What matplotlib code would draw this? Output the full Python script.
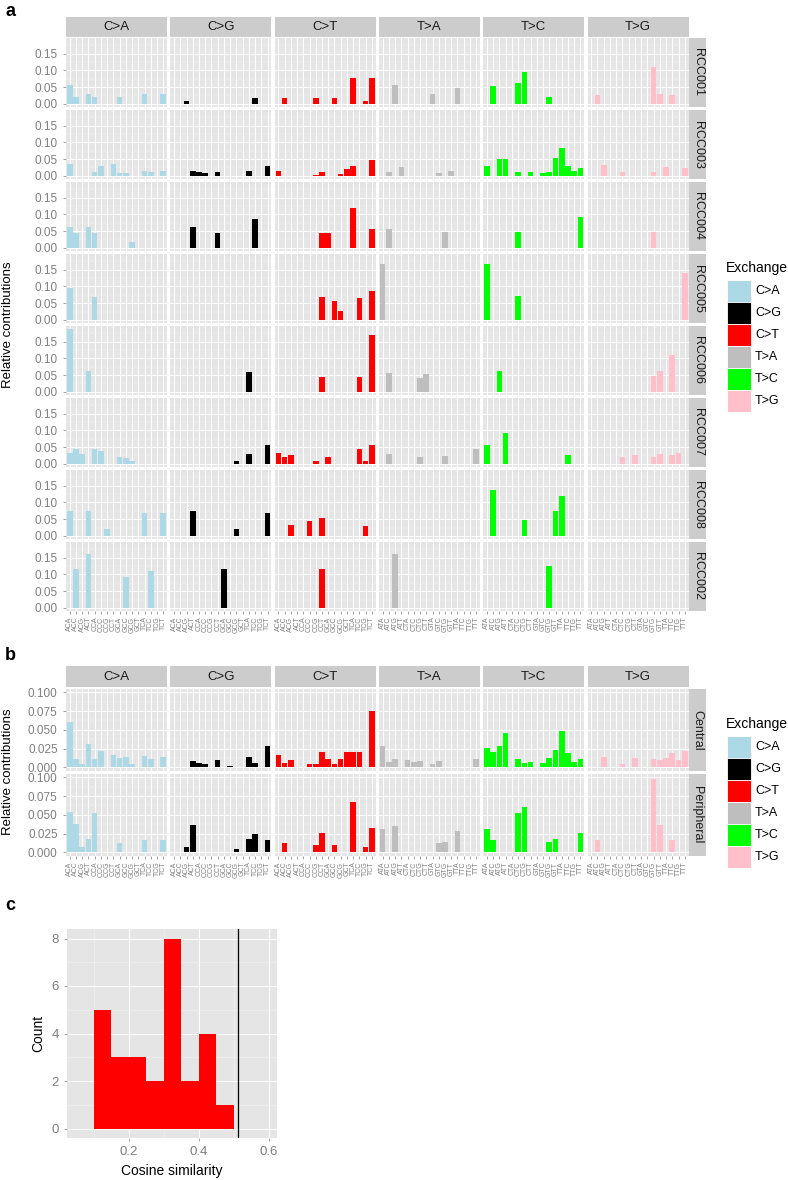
import numpy as np
import matplotlib
matplotlib.use('Agg')
import matplotlib.pyplot as plt
from matplotlib.patches import Rectangle

# ---- data -------------------------------------------------------------
EXCHANGES = ['C>A', 'C>G', 'C>T', 'T>A', 'T>C', 'T>G']
EX_COLORS = ['#ADD8E6', '#000000', '#FF0000', '#BEBEBE', '#00FF00', '#FFC0CB']
CTX_C = ['ACA', 'ACC', 'ACG', 'ACT', 'CCA', 'CCC', 'CCG', 'CCT',
         'GCA', 'GCC', 'GCG', 'GCT', 'TCA', 'TCC', 'TCG', 'TCT']
CTX_T = ['ATA', 'ATC', 'ATG', 'ATT', 'CTA', 'CTC', 'CTG', 'CTT',
         'GTA', 'GTC', 'GTG', 'GTT', 'TTA', 'TTC', 'TTG', 'TTT']

SAMPLES_A = ['RCC001', 'RCC003', 'RCC004', 'RCC005', 'RCC006', 'RCC007', 'RCC008', 'RCC002']
SAMPLES_B = ['Central', 'Peripheral']

# 96 values per sample, one line per exchange (C>A, C>G, C>T, T>A, T>C, T>G)
RCC001 = [.056, .020, 0, .028, .020, 0, 0, 0, .020, 0, 0, 0, .028, 0, 0, .028,
          0, 0, .010, 0, 0, 0, 0, 0, 0, 0, 0, 0, 0, .019, 0, 0,
          0, .019, 0, 0, 0, 0, .017, 0, 0, .017, 0, 0, .078, 0, .010, .077,
          0, 0, .056, 0, 0, 0, 0, 0, .030, 0, 0, 0, .048, 0, 0, 0,
          0, .053, 0, 0, 0, .062, .095, 0, 0, 0, .022, 0, 0, 0, 0, 0,
          0, .027, 0, 0, 0, 0, 0, 0, 0, 0, .110, .030, 0, .025, 0, 0]
RCC003 = [.035, 0, 0, 0, .012, .028, 0, .035, .010, .010, 0, 0, .015, .012, 0, .015,
          0, 0, 0, .015, .012, .010, 0, .012, 0, 0, 0, 0, .015, 0, 0, .030,
          .016, 0, 0, 0, 0, 0, .004, .011, 0, 0, .005, .022, .030, 0, 0, .046,
          0, .012, 0, .025, 0, 0, 0, 0, 0, .010, 0, .015, 0, 0, 0, 0,
          .028, 0, .050, .050, 0, .012, 0, .013, 0, .010, .012, .052, .082, .030, .015, .023,
          0, 0, .033, 0, 0, .013, 0, 0, 0, 0, .012, 0, .027, 0, 0, .023]
RCC004 = [.062, .044, 0, .062, .045, 0, 0, 0, 0, 0, .017, 0, 0, 0, 0, 0,
          0, 0, 0, .062, 0, 0, 0, .045, 0, 0, 0, 0, 0, .087, 0, 0,
          0, 0, 0, 0, 0, 0, 0, .045, .045, 0, 0, 0, .118, 0, 0, .057,
          0, .057, 0, 0, 0, 0, 0, 0, 0, 0, .048, 0, 0, 0, 0, 0,
          0, 0, 0, 0, 0, .046, 0, 0, 0, 0, 0, 0, 0, 0, 0, .093,
          0, 0, 0, 0, 0, 0, 0, 0, 0, 0, .048, 0, 0, 0, 0, 0]
RCC005 = [.095, 0, 0, 0, .068, 0, 0, 0, 0, 0, 0, 0, 0, 0, 0, 0,
          0, 0, 0, 0, 0, 0, 0, 0, 0, 0, 0, 0, 0, 0, 0, 0,
          0, 0, 0, 0, 0, 0, 0, .068, 0, .055, .027, 0, 0, .065, 0, .087,
          .168, 0, 0, 0, 0, 0, 0, 0, 0, 0, 0, 0, 0, 0, 0, 0,
          .168, 0, 0, 0, 0, .070, 0, 0, 0, 0, 0, 0, 0, 0, 0, 0,
          0, 0, 0, 0, 0, 0, 0, 0, 0, 0, 0, 0, 0, 0, 0, .140]
RCC006 = [.188, 0, 0, .063, 0, 0, 0, 0, 0, 0, 0, 0, 0, 0, 0, 0,
          0, 0, 0, 0, 0, 0, 0, 0, 0, 0, 0, 0, .058, 0, 0, 0,
          0, 0, 0, 0, 0, 0, 0, .045, 0, 0, 0, 0, 0, .043, 0, .170,
          0, .057, 0, 0, 0, 0, .040, .053, 0, 0, 0, 0, 0, 0, 0, 0,
          0, 0, .062, 0, 0, 0, 0, 0, 0, 0, 0, 0, 0, 0, 0, 0,
          0, 0, 0, 0, 0, 0, 0, 0, 0, 0, .048, .063, 0, .110, 0, 0]
RCC007 = [.032, .045, .028, 0, .045, .037, 0, 0, .022, .017, .010, 0, 0, 0, 0, 0,
          0, 0, 0, 0, 0, 0, 0, 0, 0, 0, .008, 0, .028, 0, 0, .057,
          .033, .022, .027, 0, 0, 0, .010, 0, .022, 0, 0, 0, 0, .043, .010, .057,
          0, .028, 0, 0, 0, 0, .020, 0, 0, 0, .023, 0, 0, 0, 0, .045,
          .055, 0, 0, .093, 0, 0, 0, 0, 0, 0, 0, 0, 0, .027, 0, 0,
          0, 0, 0, 0, 0, .022, 0, .025, 0, 0, .022, .030, 0, .025, .032, 0]
RCC008 = [.075, 0, 0, .075, 0, 0, .022, 0, 0, 0, 0, 0, .068, 0, 0, .068,
          0, 0, 0, .075, 0, 0, 0, 0, 0, 0, .022, 0, 0, 0, 0, .068,
          0, 0, .033, 0, 0, .043, 0, .053, 0, 0, 0, 0, 0, 0, .028, 0,
          0, 0, 0, 0, 0, 0, 0, 0, 0, 0, 0, 0, 0, 0, 0, 0,
          0, .137, 0, 0, 0, 0, .048, 0, 0, 0, 0, .075, .120, 0, 0, 0,
          0, 0, 0, 0, 0, 0, 0, 0, 0, 0, 0, 0, 0, 0, 0, 0]
RCC002 = [0, .115, 0, .162, 0, 0, 0, 0, 0, .093, 0, 0, 0, .110, 0, 0,
          0, 0, 0, 0, 0, 0, 0, 0, .117, 0, 0, 0, 0, 0, 0, 0,
          0, 0, 0, 0, 0, 0, 0, .116, 0, 0, 0, 0, 0, 0, 0, 0,
          0, 0, .162, 0, 0, 0, 0, 0, 0, 0, 0, 0, 0, 0, 0, 0,
          0, 0, 0, 0, 0, 0, 0, 0, 0, 0, .125, 0, 0, 0, 0, 0,
          0, 0, 0, 0, 0, 0, 0, 0, 0, 0, 0, 0, 0, 0, 0, 0]

CENTRAL = [.061, .011, .004, .031, .011, .022, 0, .016, .013, .014, .005, 0, .015, .011, 0, .014,
           0, 0, 0, .008, .006, .005, 0, .010, 0, .002, 0, 0, .014, .006, 0, .028,
           .016, .006, .010, 0, 0, .004, .004, .021, .011, .005, .011, .021, .021, .021, 0, .075,
           .028, .007, .011, 0, .010, .007, .008, 0, .005, .008, 0, 0, 0, 0, 0, .011,
           .026, .021, .029, .046, 0, .011, .006, .007, 0, .006, .012, .023, .049, .019, .007, .011,
           0, 0, .014, 0, 0, .005, 0, .012, 0, 0, .011, .010, .013, .019, .010, .022]
PERIPHERAL = [.054, .038, .007, .018, .052, 0, 0, 0, .0125, 0, 0, 0, .016, 0, 0, .016,
              0, 0, .0075, .036, 0, 0, 0, 0, 0, 0, .005, 0, .018, .024, 0, .016,
              0, .013, 0, 0, 0, 0, .010, .026, 0, .010, 0, 0, .067, 0, .007, .033,
              .031, 0, .035, 0, 0, 0, 0, 0, 0, .012, .014, 0, .029, 0, 0, 0,
              .031, .016, 0, 0, 0, .052, .060, 0, 0, 0, .014, .018, 0, 0, 0, .026,
              0, .016, 0, 0, 0, 0, 0, 0, 0, 0, .098, .037, 0, .016, 0, 0]

# panel c histogram (cosine similarity)
HIST_EDGES = [0.10, 0.15, 0.20, 0.25, 0.30, 0.35, 0.40, 0.45, 0.50]
HIST_COUNTS = [5, 3, 3, 2, 8, 2, 4, 1]
VLINE_X = 0.512

# ---- style ------------------------------------------------------------
plt.rcParams['font.family'] = ['Liberation Sans Narrow', 'Liberation Sans', 'DejaVu Sans']
GREY_TXT = '#7F7F7F'; PANEL_BG = '#E5E5E5'; STRIP_BG = '#CCCCCC'

W, H = 788, 1180
fig = plt.figure(figsize=(W / 100, H / 100), dpi=100, facecolor='white')

def add_ax(x, y, w, h):
    return fig.add_axes([x / W, 1 - (y + h) / H, w / W, h / H])

def strip(x, y, w, h, text, rot=0, fs=9.5):
    fig.add_artist(Rectangle((x / W, 1 - (y + h) / H), w / W, h / H,
                             transform=fig.transFigure, fc=STRIP_BG, ec='none'))
    fig.text((x + w / 2) / W, 1 - (y + h / 2) / H, text, rotation=rot,
             ha='center', va='center', fontsize=fs, color='#1A1A1A')

COL_X = [66 + j * 104.3 for j in range(6)]
COL_W = 101

def facet_block(samples, data, y0, row_h, gap, ylim, yticks, yticklabels, yminor):
    for i, name in enumerate(samples):
        vals = data[i]
        ytop = y0 + i * (row_h + gap)
        for j in range(6):
            ax = add_ax(COL_X[j], ytop, COL_W, row_h)
            ax.set_facecolor(PANEL_BG)
            ax.bar(np.arange(1, 17), vals[j * 16:(j + 1) * 16], width=0.9,
                   color=EX_COLORS[j], lw=0, zorder=3)
            ax.set_xlim(0.4, 16.6); ax.set_ylim(*ylim)
            for s in ax.spines.values(): s.set_visible(False)
            ax.set_xticks(np.arange(1, 17))
            ax.set_yticks(yticks); ax.set_yticks(yminor, minor=True)
            ax.grid(which='major', color='white', lw=0.7, zorder=0)
            ax.grid(which='minor', axis='y', color='#F2F2F2', lw=0.35, zorder=0)
            ax.tick_params(which='minor', length=0)
            ax.tick_params(which='major', colors=GREY_TXT, width=0.5, length=2.5)
            if j == 0:
                ax.set_yticklabels(yticklabels, fontsize=8.5, color=GREY_TXT)
            else:
                ax.tick_params(axis='y', length=0, labelleft=False)
            if i == len(samples) - 1:
                ax.set_xticklabels(CTX_C if j < 3 else CTX_T, rotation=90,
                                   fontsize=5, color=GREY_TXT, va='top')
                ax.tick_params(axis='x', pad=1.5)
            else:
                ax.tick_params(axis='x', length=0, labelbottom=False)
        strip(689, ytop, 17, row_h, name, rot=-90, fs=9)

def legend(y_title):
    fig.text(726 / W, 1 - y_title / H, 'Exchange', fontsize=10, va='center', ha='left')
    for k, (ex, col) in enumerate(zip(EXCHANGES, EX_COLORS)):
        yc = y_title + 23 + k * 22
        fig.add_artist(Rectangle((727 / W, 1 - (yc + 11) / H), 24 / W, 22 / H,
                                 transform=fig.transFigure, fc=col, ec='white', lw=0.6))
        fig.text(755 / W, 1 - yc / H, ex, fontsize=9, va='center', ha='left')

# ---- panel a ----------------------------------------------------------
for j, ex in enumerate(EXCHANGES):
    strip(COL_X[j], 17, COL_W, 20, ex)
facet_block(SAMPLES_A, [RCC001, RCC003, RCC004, RCC005, RCC006, RCC007, RCC008, RCC002],
            38, 69, 3, (-0.0094, 0.197), [0, 0.05, 0.10, 0.15],
            ['0.00', '0.05', '0.10', '0.15'], [0.025, 0.075, 0.125, 0.175])
fig.text(8 / W, 1 - 325 / H, 'Relative contributions', rotation=90, fontsize=9.5,
         ha='center', va='center')
legend(268)
fig.text(5 / W, 1 - 12 / H, 'a', fontsize=13, fontweight='bold', va='center')

# ---- panel b ----------------------------------------------------------
for j, ex in enumerate(EXCHANGES):
    strip(COL_X[j], 666, COL_W, 21, ex)
facet_block(SAMPLES_B, [CENTRAL, PERIPHERAL], 689, 82, 3, (-0.0049, 0.1045),
            [0, 0.025, 0.05, 0.075, 0.10], ['0.000', '0.025', '0.050', '0.075', '0.100'],
            [0.0125, 0.0375, 0.0625, 0.0875])
fig.text(8 / W, 1 - 772 / H, 'Relative contributions', rotation=90, fontsize=9.5,
         ha='center', va='center')
legend(724)
fig.text(5 / W, 1 - 655 / H, 'b', fontsize=13, fontweight='bold', va='center')

# ---- panel c ----------------------------------------------------------
axc = add_ax(67, 929, 210, 209)
axc.set_facecolor(PANEL_BG)
axc.bar(HIST_EDGES[:-1], HIST_COUNTS, width=np.diff(HIST_EDGES), align='edge',
        color='#FF0000', lw=0, zorder=3)
axc.axvline(VLINE_X, color='black', lw=0.9, zorder=4)
axc.set_xlim(0.024, 0.624); axc.set_ylim(-0.4, 8.4)
axc.set_xticks([0.2, 0.4, 0.6]); axc.set_xticks([0.1, 0.3, 0.5], minor=True)
axc.set_yticks([0, 2, 4, 6, 8]); axc.set_yticks([1, 3, 5, 7], minor=True)
axc.set_xticklabels(['0.2', '0.4', '0.6'], fontsize=9.5, color=GREY_TXT)
axc.set_yticklabels(['0', '2', '4', '6', '8'], fontsize=9.5, color=GREY_TXT)
axc.grid(which='major', color='white', lw=0.8, zorder=0)
axc.grid(which='minor', color='#F2F2F2', lw=0.4, zorder=0)
axc.tick_params(which='minor', length=0)
axc.tick_params(which='major', colors=GREY_TXT, width=0.5, length=2.5)
for s in axc.spines.values(): s.set_visible(False)
axc.set_xlabel('Cosine similarity', fontsize=10)
axc.set_ylabel('Count', fontsize=10)
fig.text(5 / W, 1 - 905 / H, 'c', fontsize=13, fontweight='bold', va='center')

fig.savefig('out.png', dpi=100, facecolor='white')
plt.close()
